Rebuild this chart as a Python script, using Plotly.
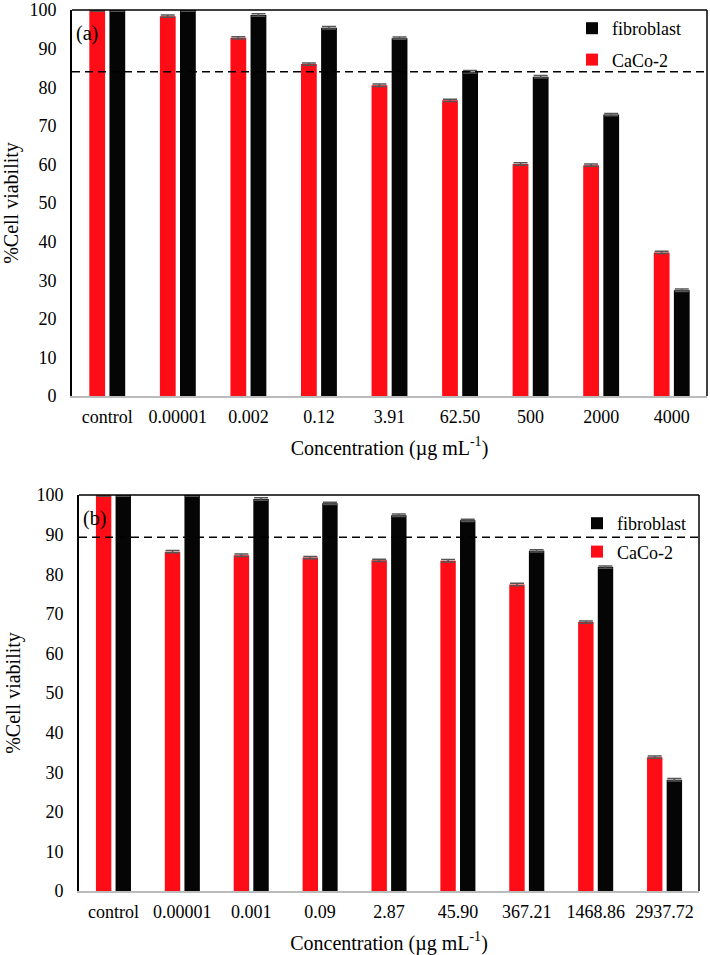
import plotly.graph_objects as go

# ---- data ----
cats_a = ["control", "0.00001", "0.002", "0.12", "3.91", "62.50", "500", "2000", "4000"]
caco2_a = [100.0, 98.4, 92.8, 86.0, 80.5, 76.6, 60.1, 59.8, 37.2]
fibro_a = [100.0, 100.0, 98.7, 95.4, 92.7, 84.0, 82.7, 72.9, 27.4]
err_a = [0.3] * 9
thresh_a = 84.0

cats_b = ["control", "0.00001", "0.001", "0.09", "2.87", "45.90", "367.21", "1468.86", "2937.72"]
caco2_b = [100.0, 85.7, 84.8, 84.2, 83.5, 83.4, 77.4, 67.9, 33.8]
fibro_b = [100.0, 100.0, 99.0, 97.9, 94.9, 93.6, 85.9, 81.8, 28.1]
err_b = [0.3] * 9
thresh_b = 89.3

y_ticks = list(range(0, 101, 10))

W, H = 710, 955
FONT = "Liberation Serif, Times New Roman, serif"
RED = "#ff0d17"
BLACK = "#050505"

def px_x(p):
    return p / W

def px_y(p):
    return 1 - p / H

fig = go.Figure()

def add_pair(cats, caco, fib, err, xa, ya, legend):
    fig.add_trace(go.Bar(
        x=cats, y=caco, name="CaCo-2", marker=dict(color=RED, line=dict(width=0)),
        error_y=dict(type="data", array=err, visible=True, color="#555555", thickness=1.5, width=7),
        xaxis=xa, yaxis=ya, legend=legend, legendgroup="c" + legend, legendrank=2))
    fig.add_trace(go.Bar(
        x=cats, y=fib, name="fibroblast", marker=dict(color=BLACK, line=dict(width=0)),
        error_y=dict(type="data", array=err, visible=True, color="#555555", thickness=1.5, width=7),
        xaxis=xa, yaxis=ya, legend=legend, legendgroup="f" + legend, legendrank=1))

add_pair(cats_a, caco2_a, fibro_a, err_a, "x", "y", "legend")
add_pair(cats_b, caco2_b, fibro_b, err_b, "x2", "y2", "legend2")

xcommon = dict(
    showline=True, linecolor="#bbbbbb", linewidth=2, ticks="", showgrid=False,
    automargin=False,
    tickfont=dict(family=FONT, size=18, color="black"),
    ticklabelstandoff=3,
)
ycommon = dict(
    range=[0, 100], tickvals=y_ticks, showline=True, linecolor="black", linewidth=2,
    ticks="", showgrid=False, zeroline=False, automargin=False,
    ticklabeloverflow="allow",
    tickfont=dict(family=FONT, size=18, color="black"),
    ticklabelstandoff=10,
)
xtitle = dict(text="Concentration (µg mL<sup>-1</sup>)", standoff=15,
              font=dict(family=FONT, size=20, color="black"))
ytitle = dict(text="%Cell viability", standoff=10,
              font=dict(family=FONT, size=20, color="black"))

legcommon = dict(xanchor="left", yanchor="top", traceorder="grouped",
                 font=dict(family=FONT, size=18, color="black"),
                 bgcolor="rgba(0,0,0,0)", itemwidth=30)

fig.update_layout(
    width=W, height=H,
    margin=dict(l=0, r=0, t=0, b=0, autoexpand=False),
    paper_bgcolor="white", plot_bgcolor="white",
    barmode="group", bargap=0.43, bargroupgap=0.215,
    font=dict(family=FONT, color="black"),
    xaxis=dict(domain=[px_x(72), px_x(707)], anchor="y", title=xtitle, **xcommon),
    yaxis=dict(domain=[px_y(396), px_y(10)], anchor="x", title=ytitle, **ycommon),
    xaxis2=dict(domain=[px_x(79), px_x(699)], anchor="y2", title=xtitle, **xcommon),
    yaxis2=dict(domain=[px_y(891), px_y(495)], anchor="x2", title=ytitle, **ycommon),
    legend=dict(x=px_x(572), y=px_y(10), tracegroupgap=5, **legcommon),
    legend2=dict(x=px_x(577), y=px_y(505), tracegroupgap=2, **legcommon),
)

shapes = []
for xa, ya, th in [("x", "y", thresh_a), ("x2", "y2", thresh_b)]:
    shapes.append(dict(type="line", xref=f"{xa} domain", yref=ya, x0=0, x1=1, y0=th, y1=th,
                       line=dict(color="black", width=1.5, dash="8px,5px")))
    shapes.append(dict(type="line", xref=f"{xa} domain", yref=f"{ya} domain", x0=0, x1=1, y0=1, y1=1,
                       line=dict(color="black", width=1.5)))
    shapes.append(dict(type="line", xref=f"{xa} domain", yref=f"{ya} domain", x0=1, x1=1, y0=0, y1=1,
                       line=dict(color="black", width=1.5)))
fig.update_layout(shapes=shapes)

fig.add_annotation(text="(a)", xref="x domain", yref="y domain", x=0.003, y=0.94,
                   xanchor="left", yanchor="middle", showarrow=False,
                   font=dict(family=FONT, size=20, color="black"))
fig.add_annotation(text="(b)", xref="x2 domain", yref="y2 domain", x=0.003, y=0.94,
                   xanchor="left", yanchor="middle", showarrow=False,
                   font=dict(family=FONT, size=20, color="black"))

# remove the default 8px page margin so the figure sits at the window's corner
fig.write_html("out.html", config={"displayModeBar": False},
               post_script="document.body.style.margin='0px';")
